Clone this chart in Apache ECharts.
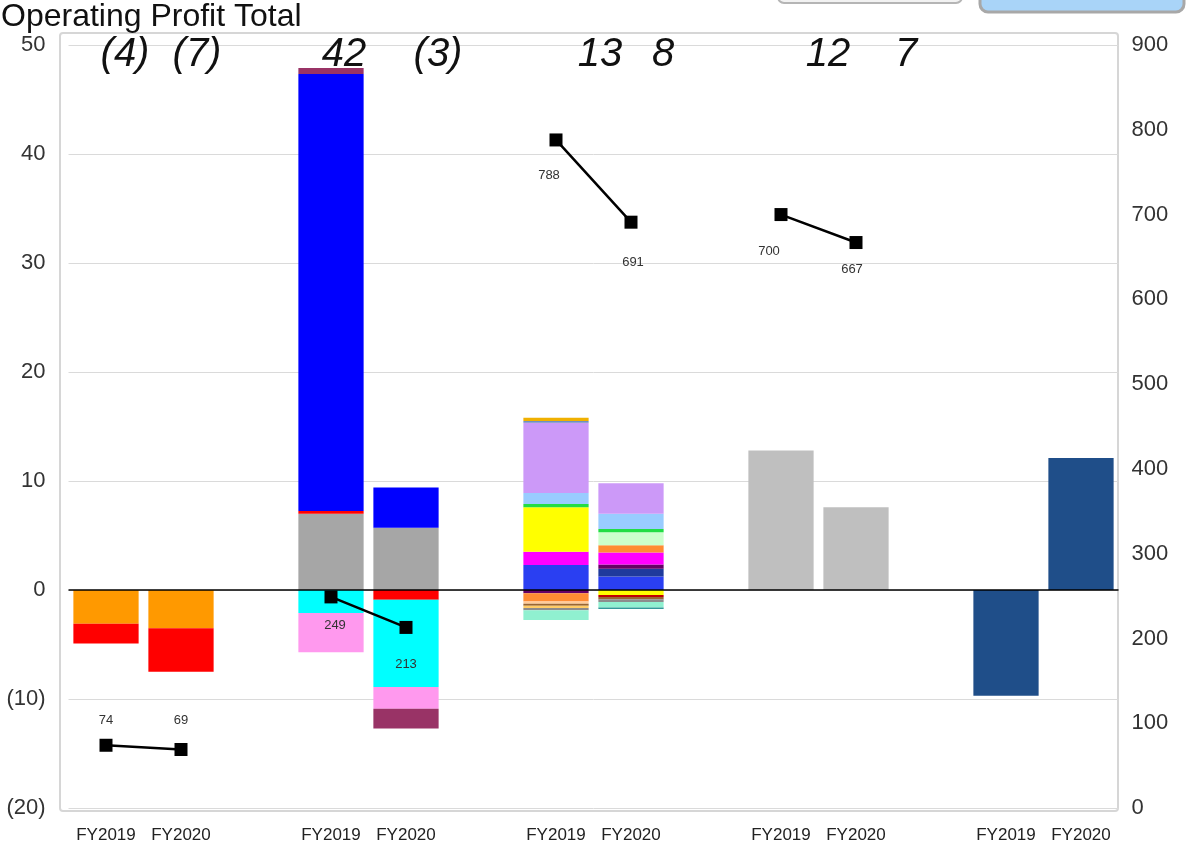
<!DOCTYPE html>
<html>
<head>
<meta charset="utf-8">
<title>Operating Profit Total</title>
<script src="https://cdn.jsdelivr.net/npm/echarts@6/dist/echarts.min.js"></script>
<style>
  html, body { margin: 0; padding: 0; background: #ffffff; }
  #chart { width: 1186px; height: 850px; }
</style>
</head>
<body>
<div id="chart"></div>
<script>
// Category slots: two fiscal years per business, blank slots between businesses
const categories = ['FY2019', 'FY2020', '', 'FY2019', 'FY2020', '', 'FY2019', 'FY2020', '', 'FY2019', 'FY2020', '', 'FY2019', 'FY2020'];
const groupSlots = [[0, 1], [3, 4], [6, 7], [9, 10], [12, 13]];

// Left axis ticks (operating profit) and right axis ticks (line values)
const leftTicks = { min: -20, max: 50, step: 10 };
const rightTicks = { min: 0, max: 900, step: 100 };

// Stacked segment contributions: [segment, FY2019, FY2020]
const segmentsA = [
  ['A-1', -3.1, -3.5],
  ['A-2', -1.8, -4.0]
];
const segmentsB = [
  ['B-1', 7.0, 5.7],
  ['B-2', 0.25, -0.9],
  ['B-3', -2.1, -8.0],
  ['B-4', -3.6, -2.0],
  ['B-5', 40.1, 3.7],
  ['B-6', 0.55, -1.8]
];
const segmentsC = [
  ['C-1', 2.3, 1.25],
  ['C-2', null, 0.7],
  ['C-3', -0.3, 0.4],
  ['C-4', 1.2, 1.1],
  ['C-5', -0.75, 0.65],
  ['C-6', 4.1, -0.45],
  ['C-7', null, 1.2],
  ['C-8', 0.3, 0.3],
  ['C-9', 1.0, 1.4],
  ['C-10', 6.45, 2.8],
  ['C-11', 0.15, null],
  ['C-12', 0.3, null],
  ['C-13', -0.2, null],
  ['C-14', null, -0.2],
  ['C-15', -0.2, -0.2],
  ['C-16', -0.2, null],
  ['C-17', -0.2, -0.25],
  ['C-18', -0.9, -0.5],
  ['C-19', null, -0.15]
];
const segmentsD = [
  ['D-1', 12.8, 7.6]
];
const segmentsE = [
  ['E-1', -9.7, 12.1]
];

// Right-axis line values per slot (null breaks the line between businesses)
const lineValues = [74, 69, null, 249, 213, null, 788, 691, null, 700, 667, null, null, null];

// Businesses whose net total is written above the plot
const totalsShownFor = [0, 1, 2, 3];

// Segment fill colours
const segmentColors = {
  'A-1': '#ff9900', 'A-2': '#ff0000',
  'B-1': '#a6a6a6', 'B-2': '#ff0000', 'B-3': '#00ffff', 'B-4': '#ff99ee', 'B-5': '#0000ff', 'B-6': '#993366',
  'C-1': '#2a3ff2', 'C-2': '#1f3a9c', 'C-3': '#660066', 'C-4': '#ff00ff', 'C-5': '#ff8c33', 'C-6': '#ffff00',
  'C-7': '#ccffcc', 'C-8': '#22dd44', 'C-9': '#99ccff', 'C-10': '#cc99f8', 'C-11': '#6f8fbf', 'C-12': '#f0b000',
  'C-13': '#ffcc99', 'C-14': '#c00000', 'C-15': '#996633', 'C-16': '#ffcc66', 'C-17': '#8c8c8c',
  'C-18': '#90f0d0', 'C-19': '#339999',
  'D-1': '#bfbfbf', 'E-1': '#1f4e89'
};

// Label placement for the line values: [position, distance, dx]
const lineLabelPlacement = [
  ['top', 12, 0], ['top', 16, 0], null, ['bottom', 16, 4], ['bottom', 24, 0], null,
  ['bottom', 22, -7], ['bottom', 27, 2], null, ['bottom', 24, -12], ['bottom', 14, -4], null, null, null
];
// Horizontal nudges for the net-total captions
const totalCaptionDx = [19, 16, 13, 32, 44, 32, 47, 50];

const allGroups = [segmentsA, segmentsB, segmentsC, segmentsD, segmentsE];

const barSeries = [];
allGroups.forEach((segs, g) => {
  segs.forEach(([name, v19, v20]) => {
    const data = categories.map(() => null);
    data[groupSlots[g][0]] = v19;
    data[groupSlots[g][1]] = v20;
    barSeries.push({
      name: name,
      type: 'bar',
      stack: 'profit',
      yAxisIndex: 0,
      barWidth: '87%',
      itemStyle: { color: segmentColors[name] },
      data: data
    });
  });
});

// Net profit per slot, summed from the stacked segments
const netTotals = categories.map((_, i) => {
  let s = 0;
  barSeries.forEach(se => { if (se.data[i] != null) s += se.data[i]; });
  return Math.round(s * 100) / 100;
});
function fmtParen(v) {
  return v < 0 ? '(' + Math.abs(v) + ')' : String(v);
}

const lineData = lineValues.map((v, i) => {
  const p = lineLabelPlacement[i];
  if (v == null || !p) return v;
  return { value: v, label: { position: p[0], distance: p[1], offset: [p[2], 0] } };
});

const chart = echarts.init(document.getElementById('chart'), null, { renderer: 'canvas' });

const axisFont = 'Liberation Sans, Arial, sans-serif';

const option = {
  animation: false,
  backgroundColor: '#ffffff',
  grid: { left: 68.5, right: 67.5, top: 45, bottom: 42, containLabel: false },
  xAxis: {
    type: 'category',
    data: categories,
    axisLine: { show: false },
    axisTick: { show: false },
    axisLabel: { interval: 0, margin: 19, fontSize: 17, color: '#222', fontFamily: axisFont },
    splitLine: { show: false }
  },
  yAxis: [
    {
      type: 'value',
      min: leftTicks.min, max: leftTicks.max, interval: leftTicks.step,
      axisLine: { show: false }, axisTick: { show: false },
      axisLabel: { margin: 23, fontSize: 22, color: '#333', fontFamily: axisFont, formatter: fmtParen },
      splitLine: { show: true, lineStyle: { color: '#dadada', width: 1 } }
    },
    {
      type: 'value',
      min: rightTicks.min, max: rightTicks.max, interval: rightTicks.step,
      axisLine: { show: false }, axisTick: { show: false },
      axisLabel: { margin: 13, fontSize: 22, color: '#333', fontFamily: axisFont },
      splitLine: { show: false }
    }
  ],
  series: barSeries.concat([
    {
      name: 'zero',
      type: 'line',
      yAxisIndex: 0,
      data: categories.map(() => null),
      z: 5,
      silent: true,
      markLine: {
        silent: true,
        symbol: ['none', 'none'],
        label: { show: false },
        lineStyle: { color: '#000', width: 1.5, type: 'solid' },
        data: [{ yAxis: 0 }]
      }
    },
    {
      name: 'line',
      type: 'line',
      yAxisIndex: 1,
      data: lineData,
      connectNulls: false,
      symbol: 'rect',
      symbolSize: 13,
      z: 10,
      lineStyle: { color: '#000', width: 2.5 },
      itemStyle: { color: '#000' },
      label: { show: true, fontSize: 13, color: '#333', fontFamily: axisFont }
    }
  ])
};

chart.setOption(option);

// Decorations: title, plot frame, tab shapes, and net-total captions
const graphics = [
  {
    type: 'rect', z: -1, silent: true,
    shape: { x: 60, y: 33, width: 1058, height: 778, r: 3 },
    style: { fill: 'none', stroke: '#d6d6d6', lineWidth: 2 }
  },
  {
    type: 'rect', silent: true,
    shape: { x: 778, y: -20, width: 184, height: 23, r: 6 },
    style: { fill: '#f2f2f2', stroke: '#b5b5b5', lineWidth: 2 }
  },
  {
    type: 'rect', silent: true,
    shape: { x: 980, y: -20, width: 204, height: 32, r: 8 },
    style: { fill: '#a9d4f8', stroke: '#a8a8a8', lineWidth: 3 }
  },
  {
    type: 'text', silent: true, left: 1, top: 1,
    style: { text: 'Operating Profit Total', fontSize: 32, fill: '#111', fontFamily: axisFont }
  }
];

let k = 0;
totalsShownFor.forEach(g => {
  groupSlots[g].forEach(slot => {
    const x = chart.convertToPixel({ xAxisIndex: 0 }, slot);
    graphics.push({
      type: 'text', silent: true,
      x: x + totalCaptionDx[k], y: 55,
      style: {
        text: fmtParen(Math.trunc(netTotals[slot])),
        fontSize: 40, fontStyle: 'italic',
        fontFamily: 'Liberation Sans Narrow, Liberation Sans, Arial, sans-serif',
        fill: '#111', align: 'center', verticalAlign: 'middle'
      }
    });
    k++;
  });
});

chart.setOption({ graphic: graphics });
</script>
</body>
</html>
